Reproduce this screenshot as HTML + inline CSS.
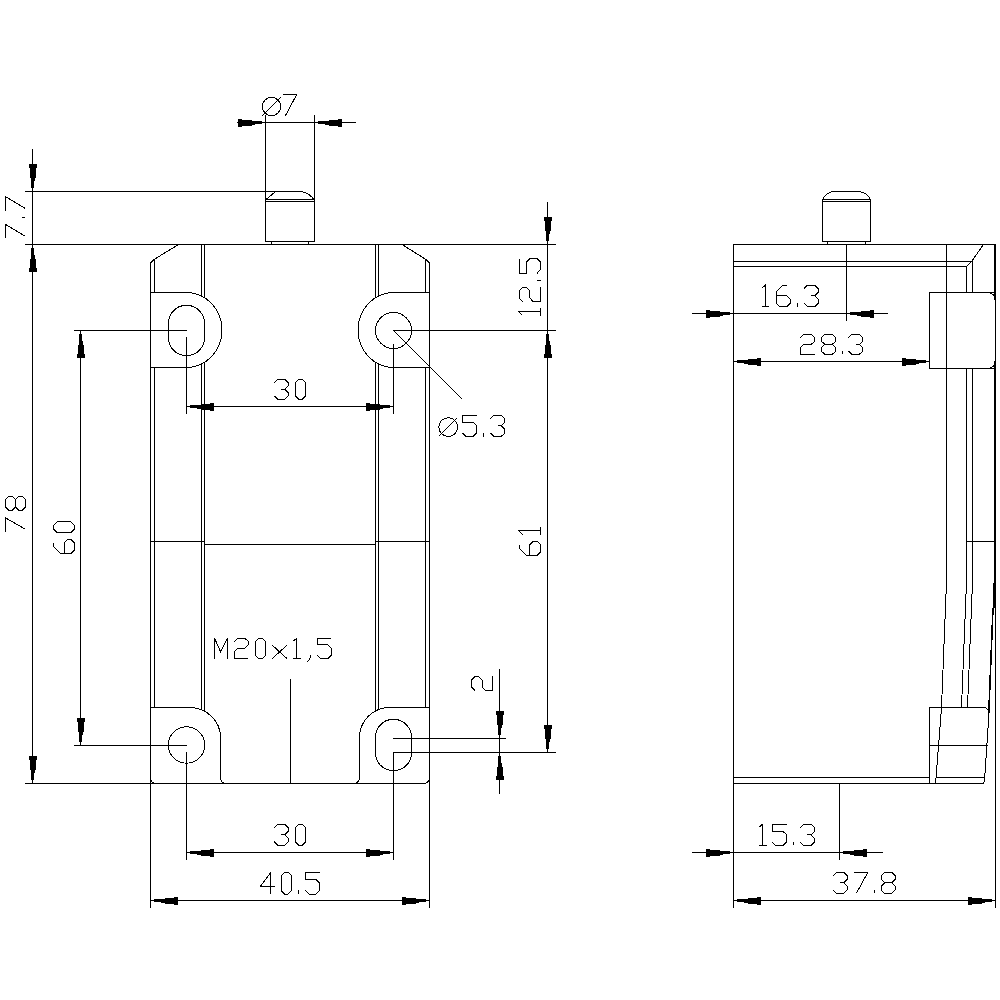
<!DOCTYPE html>
<html><head><meta charset="utf-8"><title>drawing</title>
<style>
html,body{margin:0;padding:0;background:#fff;width:1000px;height:1000px;overflow:hidden;font-family:"Liberation Sans",sans-serif;}
svg{display:block;}
</style></head>
<body>
<svg width="1000" height="1000" viewBox="0 0 1000 1000">
<rect width="1000" height="1000" fill="#fff"/>
<g fill="none" stroke="#000" stroke-width="1" stroke-linecap="butt" stroke-linejoin="miter" shape-rendering="crispEdges">
<line x1="265.5" y1="115" x2="265.5" y2="242"/>
<line x1="314.5" y1="115" x2="314.5" y2="242"/>
<line x1="265" y1="241.5" x2="315" y2="241.5"/>
<line x1="271.5" y1="241" x2="271.5" y2="245"/>
<line x1="308.5" y1="241" x2="308.5" y2="245"/>
<line x1="265" y1="199.5" x2="315" y2="199.5"/>
<line x1="265" y1="201.5" x2="315" y2="201.5"/>
<line x1="25" y1="191.5" x2="302" y2="191.5"/>
<path d="M266 199.5 L275.5 191.5"/>
<path d="M301.5 191.5 Q309 193 314 199.5"/>
<line x1="237" y1="122.5" x2="356" y2="122.5"/>
<rect x="255" y="121" width="6.7" height="3" fill="#000" stroke="none"/>
<rect x="251.5" y="121" width="3.5" height="4" fill="#000" stroke="none"/>
<rect x="242.3" y="120" width="9.2" height="6" fill="#000" stroke="none"/>
<rect x="237.6" y="119" width="4.7" height="8" fill="#000" stroke="none"/>
<rect x="318.3" y="121" width="6.7" height="3" fill="#000" stroke="none"/>
<rect x="325" y="121" width="3.5" height="4" fill="#000" stroke="none"/>
<rect x="328.5" y="120" width="9.2" height="6" fill="#000" stroke="none"/>
<rect x="337.7" y="119" width="4.7" height="8" fill="#000" stroke="none"/>
<circle cx="271.5" cy="106.5" r="9.2"/>
<line x1="262.3" y1="115.7" x2="280.7" y2="97.3"/>
<polyline points="283.25,94.51 296.74,94.51 285.38,115.75"/>
<line x1="25" y1="244.5" x2="556" y2="244.5"/>
<line x1="25" y1="783.5" x2="424" y2="783.5"/>
<line x1="150.5" y1="263" x2="150.5" y2="908"/>
<path d="M150.5 263 L154 259.5 L178.5 244.5"/>
<line x1="154.5" y1="259" x2="154.5" y2="293"/>
<line x1="154.5" y1="367" x2="154.5" y2="708"/>
<line x1="429.5" y1="263" x2="429.5" y2="908"/>
<path d="M429.5 263 L426 259.5 L402 244.5"/>
<line x1="425.5" y1="259" x2="425.5" y2="293"/>
<line x1="425.5" y1="367" x2="425.5" y2="708"/>
<line x1="201.5" y1="244" x2="201.5" y2="297"/>
<line x1="204.5" y1="244" x2="204.5" y2="298"/>
<line x1="201.5" y1="364" x2="201.5" y2="710"/>
<line x1="204.5" y1="363" x2="204.5" y2="711"/>
<line x1="375.5" y1="244" x2="375.5" y2="298"/>
<line x1="378.5" y1="244" x2="378.5" y2="297"/>
<line x1="375.5" y1="363" x2="375.5" y2="711"/>
<line x1="378.5" y1="364" x2="378.5" y2="710"/>
<line x1="150" y1="541.5" x2="205" y2="541.5"/>
<line x1="204" y1="544.5" x2="376" y2="544.5"/>
<line x1="375" y1="541.5" x2="430" y2="541.5"/>
<path d="M150.5 292.5 H186.5 A35.5 37.5 0 0 1 186.5 367.5 H150.5"/>
<path d="M429.5 292.5 H393.5 A35.5 37.5 0 0 0 393.5 367.5 H429.5"/>
<path d="M150.5 707.5 H189.5 A31 30 0 0 1 220.5 737.5 V777 Q220.5 783.5 227 783.5"/>
<path d="M429.5 707.5 H389.5 A30 30 0 0 0 359.5 737.5 V777 Q359.5 783.5 353 783.5"/>
<path d="M150.5 777 Q151 783.5 156 783.5"/>
<path d="M429.5 777 Q429 783.5 424 783.5"/>
<rect x="168.5" y="305.5" width="36" height="50" rx="17" ry="18"/>
<circle cx="393.5" cy="330.5" r="18"/>
<circle cx="186.5" cy="745" r="18.2"/>
<rect x="375.5" y="719.5" width="36" height="51" rx="17" ry="18"/>
<line x1="74" y1="330.5" x2="187" y2="330.5"/>
<line x1="186.5" y1="337" x2="186.5" y2="414"/>
<line x1="393" y1="330.5" x2="556" y2="330.5"/>
<line x1="393.5" y1="344" x2="393.5" y2="414"/>
<line x1="393.5" y1="330.5" x2="462.5" y2="399.5"/>
<line x1="74" y1="745.5" x2="187" y2="745.5"/>
<line x1="186.5" y1="752" x2="186.5" y2="860"/>
<line x1="393" y1="738.5" x2="506" y2="738.5"/>
<line x1="393" y1="752.5" x2="556" y2="752.5"/>
<line x1="393.5" y1="752" x2="393.5" y2="860"/>
<line x1="290.5" y1="679" x2="290.5" y2="784"/>
<line x1="32.5" y1="149" x2="32.5" y2="784"/>
<rect x="31" y="181" width="3" height="6.7" fill="#000" stroke="none"/>
<rect x="31" y="177.5" width="4" height="3.5" fill="#000" stroke="none"/>
<rect x="30" y="168.3" width="6" height="9.2" fill="#000" stroke="none"/>
<rect x="29" y="163.6" width="8" height="4.7" fill="#000" stroke="none"/>
<rect x="31" y="248.3" width="3" height="6.7" fill="#000" stroke="none"/>
<rect x="31" y="255" width="4" height="3.5" fill="#000" stroke="none"/>
<rect x="30" y="258.5" width="6" height="9.2" fill="#000" stroke="none"/>
<rect x="29" y="267.7" width="8" height="4.7" fill="#000" stroke="none"/>
<rect x="31" y="248.3" width="3" height="6.7" fill="#000" stroke="none"/>
<rect x="31" y="255" width="4" height="3.5" fill="#000" stroke="none"/>
<rect x="30" y="258.5" width="6" height="9.2" fill="#000" stroke="none"/>
<rect x="29" y="267.7" width="8" height="4.7" fill="#000" stroke="none"/>
<rect x="31" y="773" width="3" height="6.7" fill="#000" stroke="none"/>
<rect x="31" y="769.5" width="4" height="3.5" fill="#000" stroke="none"/>
<rect x="30" y="760.3" width="6" height="9.2" fill="#000" stroke="none"/>
<rect x="29" y="755.6" width="8" height="4.7" fill="#000" stroke="none"/>
<polyline points="5.5,238.4 5.5,224.42 25.3,236.19"/>
<polyline points="25.3,217.3 21.67,217.3"/>
<polyline points="5.5,210.6 5.5,196.62 25.3,208.39"/>
<polyline points="5.52,531.5 5.52,517.82 25.5,529.34"/>
<polyline points="15.51,506.9 12.18,510.5 8.85,510.5 5.52,506.9 5.52,499.7 8.85,496.1 12.18,496.1 15.51,499.7 15.51,506.9 18.84,510.5 22.17,510.5 25.5,506.9 25.5,499.7 22.17,496.1 18.84,496.1 15.51,499.7"/>
<line x1="80.5" y1="330" x2="80.5" y2="746"/>
<rect x="79" y="334.3" width="3" height="6.7" fill="#000" stroke="none"/>
<rect x="79" y="341" width="4" height="3.5" fill="#000" stroke="none"/>
<rect x="78" y="344.5" width="6" height="9.2" fill="#000" stroke="none"/>
<rect x="77" y="353.7" width="8" height="4.7" fill="#000" stroke="none"/>
<rect x="79" y="735" width="3" height="6.7" fill="#000" stroke="none"/>
<rect x="79" y="731.5" width="4" height="3.5" fill="#000" stroke="none"/>
<rect x="78" y="722.3" width="6" height="9.2" fill="#000" stroke="none"/>
<rect x="77" y="717.6" width="8" height="4.7" fill="#000" stroke="none"/>
<polyline points="53.5,542.85 53.5,546.4 60.5,553.5 71,553.5 74.5,549.95 74.5,542.85 71,539.3 67.5,539.3 64,542.85 64,553.5"/>
<polyline points="53.5,528.95 53.5,525.4 57,521.85 71,521.85 74.5,525.4 74.5,528.95 71,532.5 57,532.5 53.5,528.95"/>
<line x1="186" y1="406.5" x2="394" y2="406.5"/>
<rect x="190.3" y="405" width="6.7" height="3" fill="#000" stroke="none"/>
<rect x="197" y="405" width="3.5" height="4" fill="#000" stroke="none"/>
<rect x="200.5" y="404" width="9.2" height="6" fill="#000" stroke="none"/>
<rect x="209.7" y="403" width="4.7" height="8" fill="#000" stroke="none"/>
<rect x="383" y="405" width="6.7" height="3" fill="#000" stroke="none"/>
<rect x="379.5" y="405" width="3.5" height="4" fill="#000" stroke="none"/>
<rect x="370.3" y="404" width="9.2" height="6" fill="#000" stroke="none"/>
<rect x="365.6" y="403" width="4.7" height="8" fill="#000" stroke="none"/>
<polyline points="274.25,382.6 277.75,379.27 284.75,379.27 288.25,382.6 288.25,385.93 284.75,389.26 288.25,392.59 288.25,395.92 284.75,399.25 277.75,399.25 274.25,395.92"/>
<polyline points="281.25,389.26 284.75,389.26"/>
<polyline points="298.75,379.27 302.25,379.27 305.75,382.6 305.75,395.92 302.25,399.25 298.75,399.25 295.25,395.92 295.25,382.6 298.75,379.27"/>
<polyline points="476.7,415.2 462.3,415.2 462.3,422.3 473.1,422.3 476.7,425.85 476.7,432.95 473.1,436.5 465.9,436.5 462.3,432.95"/>
<polyline points="483.1,436.5 483.1,432.6"/>
<polyline points="490.4,418.75 494,415.2 501.2,415.2 504.8,418.75 504.8,422.3 501.2,425.85 504.8,429.4 504.8,432.95 501.2,436.5 494,436.5 490.4,432.95"/>
<polyline points="497.6,425.85 501.2,425.85"/>
<circle cx="448.2" cy="427.1" r="9.4"/>
<line x1="438.8" y1="436.5" x2="457.6" y2="417.7"/>
<line x1="547.5" y1="202" x2="547.5" y2="753"/>
<rect x="546" y="234" width="3" height="6.7" fill="#000" stroke="none"/>
<rect x="546" y="230.5" width="4" height="3.5" fill="#000" stroke="none"/>
<rect x="545" y="221.3" width="6" height="9.2" fill="#000" stroke="none"/>
<rect x="544" y="216.6" width="8" height="4.7" fill="#000" stroke="none"/>
<rect x="546" y="334.3" width="3" height="6.7" fill="#000" stroke="none"/>
<rect x="546" y="341" width="4" height="3.5" fill="#000" stroke="none"/>
<rect x="545" y="344.5" width="6" height="9.2" fill="#000" stroke="none"/>
<rect x="544" y="353.7" width="8" height="4.7" fill="#000" stroke="none"/>
<rect x="546" y="742" width="3" height="6.7" fill="#000" stroke="none"/>
<rect x="546" y="738.5" width="4" height="3.5" fill="#000" stroke="none"/>
<rect x="545" y="729.3" width="6" height="9.2" fill="#000" stroke="none"/>
<rect x="544" y="724.6" width="8" height="4.7" fill="#000" stroke="none"/>
<polyline points="522.39,315.6 519.18,311.75 540.6,311.75"/>
<polyline points="540.6,315.6 540.6,307.71"/>
<polyline points="522.75,301.8 519.18,298.13 519.18,290.79 522.75,287.12 526.32,287.12 529.89,290.79 529.89,298.13 533.46,301.8 540.6,301.8 540.6,287.12"/>
<polyline points="540.6,280.4 536.67,280.4"/>
<polyline points="519.18,258.62 519.18,273.3 526.32,273.3 526.32,262.29 529.89,258.62 537.03,258.62 540.6,262.29 540.6,269.63 537.03,273.3"/>
<polyline points="519.26,544.7 519.26,548.3 526.34,555.5 536.96,555.5 540.5,551.9 540.5,544.7 536.96,541.1 533.42,541.1 529.88,544.7 529.88,555.5"/>
<polyline points="522.45,534.75 519.26,530.97 540.5,530.97"/>
<polyline points="540.5,534.75 540.5,527.01"/>
<line x1="499.5" y1="669" x2="499.5" y2="794"/>
<rect x="498" y="728" width="3" height="6.7" fill="#000" stroke="none"/>
<rect x="498" y="724.5" width="4" height="3.5" fill="#000" stroke="none"/>
<rect x="497" y="715.3" width="6" height="9.2" fill="#000" stroke="none"/>
<rect x="496" y="710.6" width="8" height="4.7" fill="#000" stroke="none"/>
<rect x="498" y="756.3" width="3" height="6.7" fill="#000" stroke="none"/>
<rect x="498" y="763" width="4" height="3.5" fill="#000" stroke="none"/>
<rect x="497" y="766.5" width="6" height="9.2" fill="#000" stroke="none"/>
<rect x="496" y="775.7" width="8" height="4.7" fill="#000" stroke="none"/>
<polyline points="474.95,690.6 471.42,687.05 471.42,679.95 474.95,676.4 478.48,676.4 482.01,679.95 482.01,687.05 485.54,690.6 492.6,690.6 492.6,676.4"/>
<polyline points="214.5,658.7 214.5,638.12 220.62,651.84 227.62,638.12 227.62,658.7"/>
<polyline points="234.3,641.55 237.8,638.12 244.8,638.12 248.3,641.55 248.3,644.98 244.8,648.41 237.8,648.41 234.3,651.84 234.3,658.7 248.3,658.7"/>
<polyline points="258.8,638.12 262.3,638.12 265.8,641.55 265.8,655.27 262.3,658.7 258.8,658.7 255.3,655.27 255.3,641.55 258.8,638.12"/>
<polyline points="272.1,658.7 287.15,644.98"/>
<polyline points="272.1,644.98 287.15,658.7"/>
<polyline points="293.1,641.21 296.78,638.12 296.78,658.7"/>
<polyline points="293.1,658.7 300.62,658.7"/>
<polyline points="310.43,655.27 309.9,658.7 307.1,662.13"/>
<polyline points="331.2,638.12 317.2,638.12 317.2,644.98 327.7,644.98 331.2,648.41 331.2,655.27 327.7,658.7 320.7,658.7 317.2,655.27"/>
<line x1="186" y1="852.5" x2="394" y2="852.5"/>
<rect x="190.3" y="851" width="6.7" height="3" fill="#000" stroke="none"/>
<rect x="197" y="851" width="3.5" height="4" fill="#000" stroke="none"/>
<rect x="200.5" y="850" width="9.2" height="6" fill="#000" stroke="none"/>
<rect x="209.7" y="849" width="4.7" height="8" fill="#000" stroke="none"/>
<rect x="383" y="851" width="6.7" height="3" fill="#000" stroke="none"/>
<rect x="379.5" y="851" width="3.5" height="4" fill="#000" stroke="none"/>
<rect x="370.3" y="850" width="9.2" height="6" fill="#000" stroke="none"/>
<rect x="365.6" y="849" width="4.7" height="8" fill="#000" stroke="none"/>
<polyline points="274.25,827.75 277.75,824.25 284.75,824.25 288.25,827.75 288.25,831.25 284.75,834.75 288.25,838.25 288.25,841.75 284.75,845.25 277.75,845.25 274.25,841.75"/>
<polyline points="281.25,834.75 284.75,834.75"/>
<polyline points="298.75,824.25 302.25,824.25 305.75,827.75 305.75,841.75 302.25,845.25 298.75,845.25 295.25,841.75 295.25,827.75 298.75,824.25"/>
<line x1="150" y1="900.5" x2="430" y2="900.5"/>
<rect x="154.3" y="899" width="6.7" height="3" fill="#000" stroke="none"/>
<rect x="161" y="899" width="3.5" height="4" fill="#000" stroke="none"/>
<rect x="164.5" y="898" width="9.2" height="6" fill="#000" stroke="none"/>
<rect x="173.7" y="897" width="4.7" height="8" fill="#000" stroke="none"/>
<rect x="419" y="899" width="6.7" height="3" fill="#000" stroke="none"/>
<rect x="415.5" y="899" width="3.5" height="4" fill="#000" stroke="none"/>
<rect x="406.3" y="898" width="9.2" height="6" fill="#000" stroke="none"/>
<rect x="401.6" y="897" width="4.7" height="8" fill="#000" stroke="none"/>
<polyline points="270.99,894 270.99,872.22 260.1,886.74 274.62,886.74"/>
<polyline points="284.63,872.22 288.26,872.22 291.89,875.85 291.89,890.37 288.26,894 284.63,894 281,890.37 281,875.85 284.63,872.22"/>
<polyline points="298.4,894 298.4,890.01"/>
<polyline points="319.62,872.22 305.1,872.22 305.1,879.48 315.99,879.48 319.62,883.11 319.62,890.37 315.99,894 308.73,894 305.1,890.37"/>
<line x1="822.5" y1="199" x2="822.5" y2="242"/>
<line x1="870.5" y1="199" x2="870.5" y2="242"/>
<line x1="822" y1="241.5" x2="871" y2="241.5"/>
<line x1="827.5" y1="241" x2="827.5" y2="245"/>
<line x1="865.5" y1="241" x2="865.5" y2="245"/>
<line x1="822" y1="199.5" x2="871" y2="199.5"/>
<line x1="822" y1="201.5" x2="871" y2="201.5"/>
<path d="M822.5 199.5 Q826 192 834 191.5 H858 Q867 192 870.5 199.5"/>
<line x1="846.5" y1="244" x2="846.5" y2="321"/>
<line x1="733" y1="244.5" x2="996" y2="244.5"/>
<line x1="733.5" y1="244" x2="733.5" y2="908"/>
<line x1="733" y1="261.5" x2="972" y2="261.5"/>
<line x1="733" y1="266.5" x2="967" y2="266.5"/>
<line x1="971.5" y1="261.5" x2="983.5" y2="244.5"/>
<line x1="966.5" y1="266.5" x2="971.5" y2="261.5"/>
<line x1="946.5" y1="244" x2="946.5" y2="582"/>
<line x1="946.5" y1="582" x2="941.5" y2="707.5"/>
<line x1="941.5" y1="707.5" x2="935.6" y2="783.5"/>
<line x1="966.5" y1="266" x2="966.5" y2="293"/>
<line x1="972.5" y1="261" x2="972.5" y2="293"/>
<line x1="966.5" y1="368" x2="966.5" y2="582"/>
<line x1="972.5" y1="368" x2="972.5" y2="582"/>
<line x1="966.5" y1="582" x2="961.5" y2="707.5"/>
<line x1="972.5" y1="582" x2="967.5" y2="707.5"/>
<line x1="995.5" y1="244" x2="995.5" y2="908"/>
<line x1="994.5" y1="244" x2="994.5" y2="299"/>
<line x1="994.5" y1="362" x2="994.5" y2="608"/>
<path d="M995 292.5 H929.5 V368.5 H995"/>
<path d="M988 292.5 Q995 293 995 300"/>
<path d="M988 368.5 Q995 368 995 361"/>
<line x1="966" y1="541.5" x2="996" y2="541.5"/>
<line x1="993.5" y1="583" x2="993.1" y2="608"/>
<line x1="993" y1="608" x2="988.8" y2="713" stroke-width="1.6"/>
<path d="M929.5 783.5 V707.5 H983.5 Q988.5 708 989 713 L984.5 781 Q984 783.5 982 783.5"/>
<line x1="929" y1="745.5" x2="988" y2="745.5"/>
<line x1="733" y1="777.5" x2="930" y2="777.5"/>
<line x1="936" y1="777.5" x2="985" y2="777.5"/>
<line x1="733" y1="783.5" x2="984" y2="783.5"/>
<line x1="692" y1="313.5" x2="888" y2="313.5"/>
<rect x="723" y="312" width="6.7" height="3" fill="#000" stroke="none"/>
<rect x="719.5" y="312" width="3.5" height="4" fill="#000" stroke="none"/>
<rect x="710.3" y="311" width="9.2" height="6" fill="#000" stroke="none"/>
<rect x="705.6" y="310" width="4.7" height="8" fill="#000" stroke="none"/>
<rect x="850.3" y="312" width="6.7" height="3" fill="#000" stroke="none"/>
<rect x="857" y="312" width="3.5" height="4" fill="#000" stroke="none"/>
<rect x="860.5" y="311" width="9.2" height="6" fill="#000" stroke="none"/>
<rect x="869.7" y="310" width="4.7" height="8" fill="#000" stroke="none"/>
<polyline points="761.7,288.34 765.48,285.12 765.48,306.6"/>
<polyline points="761.7,306.6 769.44,306.6"/>
<polyline points="786.8,285.12 783.2,285.12 776,292.28 776,303.02 779.6,306.6 786.8,306.6 790.4,303.02 790.4,299.44 786.8,295.86 776,295.86"/>
<polyline points="797.5,306.6 797.5,302.66"/>
<polyline points="804,288.7 807.6,285.12 814.8,285.12 818.4,288.7 818.4,292.28 814.8,295.86 818.4,299.44 818.4,303.02 814.8,306.6 807.6,306.6 804,303.02"/>
<polyline points="811.2,295.86 814.8,295.86"/>
<line x1="733" y1="361.5" x2="930" y2="361.5"/>
<rect x="737.3" y="360" width="6.7" height="3" fill="#000" stroke="none"/>
<rect x="744" y="360" width="3.5" height="4" fill="#000" stroke="none"/>
<rect x="747.5" y="359" width="9.2" height="6" fill="#000" stroke="none"/>
<rect x="756.7" y="358" width="4.7" height="8" fill="#000" stroke="none"/>
<rect x="919" y="360" width="6.7" height="3" fill="#000" stroke="none"/>
<rect x="915.5" y="360" width="3.5" height="4" fill="#000" stroke="none"/>
<rect x="906.3" y="359" width="9.2" height="6" fill="#000" stroke="none"/>
<rect x="901.6" y="358" width="4.7" height="8" fill="#000" stroke="none"/>
<polyline points="800.25,337.75 803.91,334.42 811.23,334.42 814.89,337.75 814.89,341.08 811.23,344.41 803.91,344.41 800.25,347.74 800.25,354.4 814.89,354.4"/>
<polyline points="824.91,344.41 821.25,341.08 821.25,337.75 824.91,334.42 832.23,334.42 835.89,337.75 835.89,341.08 832.23,344.41 824.91,344.41 821.25,347.74 821.25,351.07 824.91,354.4 832.23,354.4 835.89,351.07 835.89,347.74 832.23,344.41"/>
<polyline points="842.3,354.4 842.3,350.74"/>
<polyline points="848.3,337.75 851.96,334.42 859.28,334.42 862.94,337.75 862.94,341.08 859.28,344.41 862.94,347.74 862.94,351.07 859.28,354.4 851.96,354.4 848.3,351.07"/>
<polyline points="855.62,344.41 859.28,344.41"/>
<line x1="839.5" y1="783" x2="839.5" y2="860"/>
<line x1="692" y1="852.5" x2="883" y2="852.5"/>
<rect x="723" y="851" width="6.7" height="3" fill="#000" stroke="none"/>
<rect x="719.5" y="851" width="3.5" height="4" fill="#000" stroke="none"/>
<rect x="710.3" y="850" width="9.2" height="6" fill="#000" stroke="none"/>
<rect x="705.6" y="849" width="4.7" height="8" fill="#000" stroke="none"/>
<rect x="843.3" y="851" width="6.7" height="3" fill="#000" stroke="none"/>
<rect x="850" y="851" width="3.5" height="4" fill="#000" stroke="none"/>
<rect x="853.5" y="850" width="9.2" height="6" fill="#000" stroke="none"/>
<rect x="862.7" y="849" width="4.7" height="8" fill="#000" stroke="none"/>
<polyline points="758.8,827.4 762.63,824.22 762.63,845.4"/>
<polyline points="758.8,845.4 766.65,845.4"/>
<polyline points="786.6,824.22 772,824.22 772,831.28 782.95,831.28 786.6,834.81 786.6,841.87 782.95,845.4 775.65,845.4 772,841.87"/>
<polyline points="793.4,845.4 793.4,841.52"/>
<polyline points="800,827.75 803.65,824.22 810.95,824.22 814.6,827.75 814.6,831.28 810.95,834.81 814.6,838.34 814.6,841.87 810.95,845.4 803.65,845.4 800,841.87"/>
<polyline points="807.3,834.81 810.95,834.81"/>
<line x1="733" y1="900.5" x2="996" y2="900.5"/>
<rect x="737.3" y="899" width="6.7" height="3" fill="#000" stroke="none"/>
<rect x="744" y="899" width="3.5" height="4" fill="#000" stroke="none"/>
<rect x="747.5" y="898" width="9.2" height="6" fill="#000" stroke="none"/>
<rect x="756.7" y="897" width="4.7" height="8" fill="#000" stroke="none"/>
<rect x="985" y="899" width="6.7" height="3" fill="#000" stroke="none"/>
<rect x="981.5" y="899" width="3.5" height="4" fill="#000" stroke="none"/>
<rect x="972.3" y="898" width="9.2" height="6" fill="#000" stroke="none"/>
<rect x="967.6" y="897" width="4.7" height="8" fill="#000" stroke="none"/>
<polyline points="833,875.75 836.6,872.22 843.8,872.22 847.4,875.75 847.4,879.28 843.8,882.81 847.4,886.34 847.4,889.87 843.8,893.4 836.6,893.4 833,889.87"/>
<polyline points="840.2,882.81 843.8,882.81"/>
<polyline points="854.2,872.22 867.88,872.22 856.36,893.4"/>
<polyline points="874.4,893.4 874.4,889.52"/>
<polyline points="884.6,882.81 881,879.28 881,875.75 884.6,872.22 891.8,872.22 895.4,875.75 895.4,879.28 891.8,882.81 884.6,882.81 881,886.34 881,889.87 884.6,893.4 891.8,893.4 895.4,889.87 895.4,886.34 891.8,882.81"/>
</g>
</svg>
</body></html>
